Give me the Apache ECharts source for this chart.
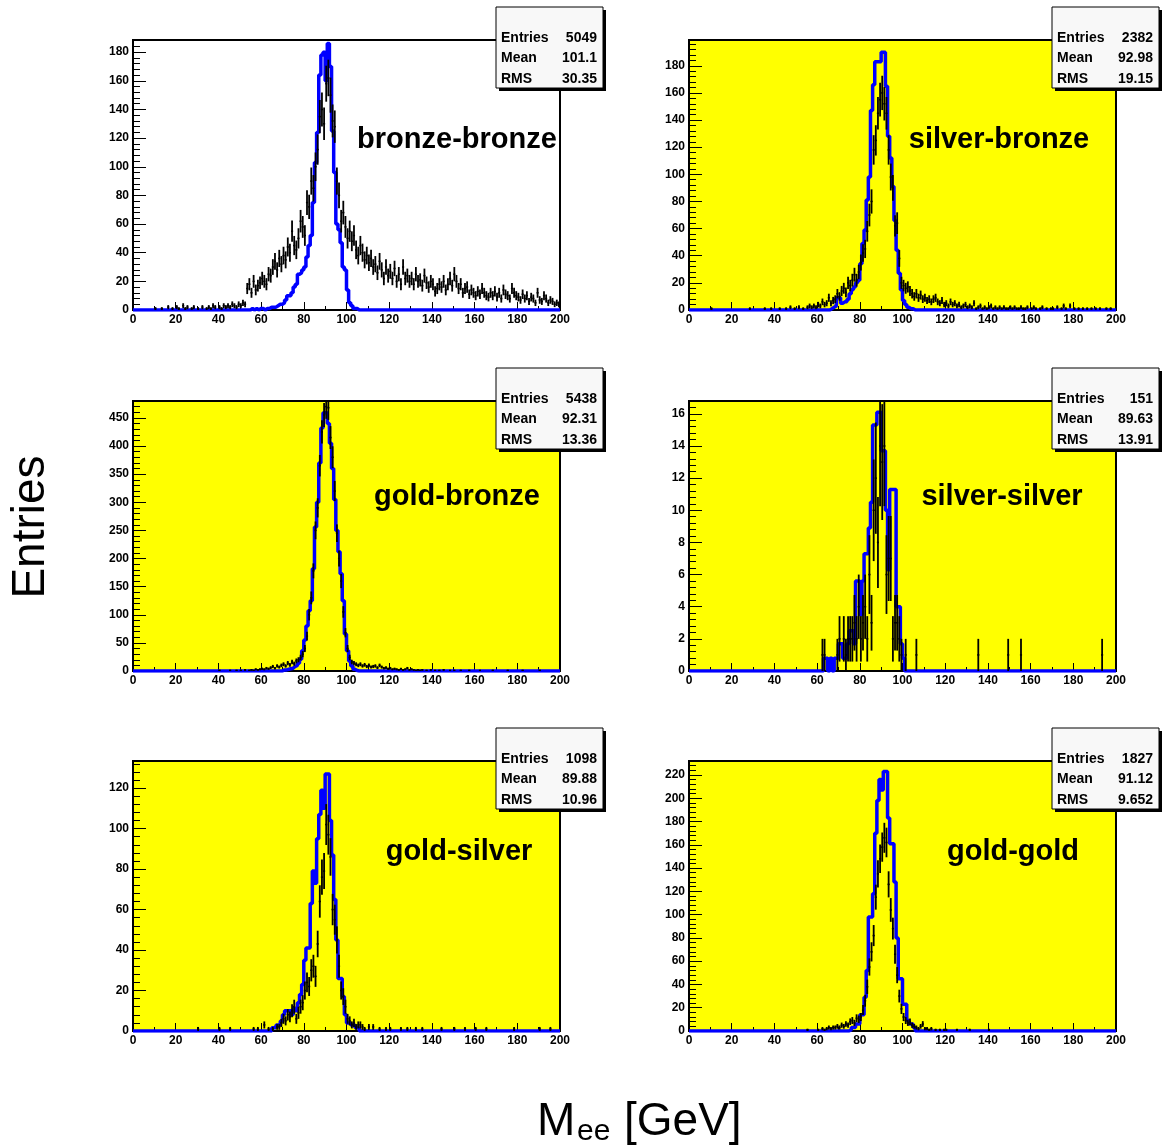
<!DOCTYPE html>
<html><head><meta charset="utf-8">
<script src="https://cdn.jsdelivr.net/npm/echarts@6/dist/echarts.min.js"></script>
<style>html,body{margin:0;padding:0;background:#fff}#c{width:1165px;height:1148px}</style>
</head><body><div id="c"></div><script>
// ---- data: 200 bins of 1 GeV, bin k = [k, k+1) ----
const bbData = [
0,0,0,0,0,0,0,0,0,0,1,0,0,1,0,0,2,0,1,0,
2,1,0,3,1,2,0,1,2,0,1,0,2,0,1,2,1,3,2,0,
2,1,3,2,3,2,4,3,2,4,3,5,4,15,18,12,20,14,17,19,
22,20,18,25,24,30,34,28,36,32,38,35,44,40,55,45,42,50,62,58,
52,75,72,90,85,100,112,135,140,130,158,162,150,132,128,90,80,62,68,58,
50,55,48,52,42,38,45,40,35,38,33,36,30,32,26,34,28,22,30,24,
27,22,29,20,25,18,30,22,24,20,22,18,25,20,21,17,24,19,16,20,
18,13,15,18,16,20,14,18,22,17,25,20,15,18,12,15,16,11,14,12,
10,13,11,15,12,10,9,12,10,13,9,12,8,14,11,10,8,15,12,10,
9,7,11,8,10,6,9,8,5,12,7,6,10,8,5,7,6,4,5,4];
const bbMC = [
0,0,0,0,0,0,0,0,0,0,0,0,0,0,0,0,0,0,0,0,
0,0,0,0,0,0,0,0,0,0,0,0,0,0,0,0,0,0,0,0,
0,0,0,0,0,0,0,0,0,0,0,0,0,0,0,1,0,1,0,1,
1,0,1,1,2,2,2,3,4,4,5,7,10,10,12,16,18,25,26,28,
30,37,45,52,75,103,124,164,178,180,160,186,170,125,96,60,56,47,30,28,
14,5,3,1,1,0,0,0,0,0,0,0,0,0,0,0,0,0,0,0,
0,0,0,0,0,0,0,0,0,0,0,0,0,0,0,0,0,0,0,0,
0,0,0,0,0,0,0,0,0,0,0,0,0,0,0,0,0,0,0,0,
0,0,0,0,0,0,0,0,0,0,0,0,0,0,0,0,0,0,0,0,
0,0,0,0,0,0,0,0,0,0,0,0,0,0,0,0,0,0,0,0];
const sbData = [
0,0,0,0,0,0,0,0,0,0,1,0,0,0,0,0,0,0,0,0,
0,0,0,0,0,0,0,0,1,0,0,0,0,0,0,1,0,0,1,0,
0,0,1,0,0,1,0,2,0,1,0,2,0,1,0,2,3,2,3,2,
4,3,6,4,5,9,5,7,8,12,10,14,16,13,20,18,22,26,22,28,
35,42,45,58,70,80,118,125,145,155,160,152,145,118,98,90,62,64,38,20,
18,16,17,14,12,10,12,9,11,8,9,7,8,6,8,9,6,5,7,4,
5,3,6,4,5,3,4,2,3,4,2,3,2,5,1,2,3,1,2,1,
2,3,1,2,1,2,1,2,1,1,2,1,2,1,1,2,1,1,2,0,
1,2,1,0,1,2,0,1,0,1,1,0,2,0,1,3,1,0,3,0,
1,0,1,0,1,0,1,0,1,0,1,0,1,0,0,1,0,1,0,0];
const sbMC = [
0,0,0,0,0,0,0,0,0,0,0,0,0,0,0,0,0,0,0,0,
0,0,0,0,0,0,0,0,0,0,0,0,0,0,0,0,0,0,0,0,
0,0,0,0,0,0,0,0,0,0,0,0,0,0,0,0,0,0,0,0,
0,0,0,0,0,0,1,2,3,9,9,5,6,6,8,12,15,17,20,22,
34,49,59,81,98,147,166,183,183,183,190,190,165,128,112,91,66,44,27,15,
7,4,2,1,1,0,0,0,0,0,0,0,0,0,0,0,0,0,0,0,
0,0,0,0,0,0,0,0,0,0,0,0,0,0,0,0,0,0,0,0,
0,0,0,0,0,0,0,0,0,0,0,0,0,0,0,0,0,0,0,0,
0,0,0,0,0,0,0,0,0,0,0,0,0,0,0,0,0,0,0,0,
0,0,0,0,0,0,0,0,0,0,0,0,0,0,0,0,0,0,0,0];
const gbData = [
0,0,0,0,0,0,0,0,0,0,0,0,0,0,0,0,0,0,0,0,
0,0,0,0,0,0,0,0,0,0,0,0,0,0,0,0,0,0,0,0,
1,0,0,0,0,1,0,0,1,0,1,0,2,0,1,2,1,3,2,3,
4,3,5,4,6,8,5,9,7,10,12,9,14,11,16,13,18,20,24,30,
40,62,100,130,178,250,290,365,425,455,470,468,415,380,320,245,200,160,105,68,
40,24,16,14,12,10,12,9,11,8,10,7,8,9,6,10,7,5,6,4,
5,3,4,3,2,4,2,3,5,2,3,2,1,2,1,2,0,1,0,2,
0,1,0,1,0,2,0,0,1,0,1,0,0,1,0,0,0,1,0,0,
0,0,1,0,0,0,0,0,1,0,0,0,0,0,0,1,0,0,0,0,
0,0,1,0,0,0,0,0,0,0,1,0,0,0,0,0,0,0,0,0];
const gbMC = [
0,0,0,0,0,0,0,0,0,0,0,0,0,0,0,0,0,0,0,0,
0,0,0,0,0,0,0,0,0,0,0,0,0,0,0,0,0,0,0,0,
0,0,0,0,0,0,0,0,0,0,0,0,0,0,0,0,0,0,0,0,
0,0,0,0,0,0,0,0,0,0,2,2,3,4,5,8,10,14,21,36,
55,80,107,125,182,256,300,370,432,459,459,440,405,360,305,250,212,173,125,66,
36,18,9,3,1,0,0,0,0,0,0,0,0,0,0,0,0,0,0,0,
0,0,0,0,0,0,0,0,0,0,0,0,0,0,0,0,0,0,0,0,
0,0,0,0,0,0,0,0,0,0,0,0,0,0,0,0,0,0,0,0,
0,0,0,0,0,0,0,0,0,0,0,0,0,0,0,0,0,0,0,0,
0,0,0,0,0,0,0,0,0,0,0,0,0,0,0,0,0,0,0,0];
const ssData = [
0,0,0,0,0,0,0,0,0,0,0,0,0,0,0,0,0,0,0,0,
0,0,0,0,0,0,0,0,0,0,0,0,0,0,0,0,0,0,0,0,
0,0,0,0,0,0,0,0,0,0,0,0,0,0,0,0,0,0,0,0,
0,0,1,1,0,0,0,0,0,1,2,0,2,1,2,2,2,3,2,4,
2,3,4,2,6,3,10,12,8,14,13,14,6,7,7,2,3,3,2,1,
0,1,0,0,0,0,1,0,0,0,0,0,0,0,0,0,0,0,0,0,
0,0,0,0,0,0,0,0,0,0,0,0,0,0,0,1,0,0,0,0,
0,0,0,0,0,0,0,0,0,1,0,0,0,0,0,1,0,0,0,0,
0,0,0,0,0,0,0,0,0,0,0,0,0,0,0,0,0,0,0,0,
0,0,0,0,0,0,0,0,0,0,0,0,0,1,0,0,0,0,0,0];
const ssMC = [
0,0,0,0,0,0,0,0,0,0,0,0,0,0,0,0,0,0,0,0,
0,0,0,0,0,0,0,0,0,0,0,0,0,0,0,0,0,0,0,0,
0,0,0,0,0,0,0,0,0,0,0,0,0,0,0,0,0,0,0,0,
0,0,0,0.8,0.8,0,0.8,0,0.8,0.8,1.7,1.7,0.8,0.8,1.7,2.5,2.5,1.7,5.6,5.6,
3.5,5.6,7.3,7.3,8.9,10.5,15.3,15.3,16.1,16.1,13.7,13.7,10,6.3,11.3,11.3,11.3,4,4,1.7,
0.8,0,0,0,0,0,0,0,0,0,0,0,0,0,0,0,0,0,0,0,
0,0,0,0,0,0,0,0,0,0,0,0,0,0,0,0,0,0,0,0,
0,0,0,0,0,0,0,0,0,0,0,0,0,0,0,0,0,0,0,0,
0,0,0,0,0,0,0,0,0,0,0,0,0,0,0,0,0,0,0,0,
0,0,0,0,0,0,0,0,0,0,0,0,0,0,0,0,0,0,0,0];
const gsData = [
0,0,0,0,0,0,0,0,0,0,0,0,0,0,0,0,0,0,0,0,
0,0,0,0,0,0,0,0,0,0,1,0,0,0,0,0,0,0,0,0,
1,0,0,0,0,1,0,0,0,0,0,0,0,0,0,0,1,0,1,0,
0,3,0,1,0,1,0,2,2,4,6,5,8,7,10,12,6,9,12,14,
20,24,22,30,32,27,43,64,76,79,102,97,86,60,55,45,32,20,17,12,
6,5,3,4,2,3,3,2,1,0,2,0,2,0,0,1,0,0,1,0,
1,0,0,0,0,1,0,0,1,0,0,0,1,0,0,1,0,0,0,0,
0,0,0,0,1,0,0,0,0,0,1,0,0,0,0,1,0,0,0,0,
1,0,0,0,0,1,0,0,0,0,0,0,0,0,0,0,0,0,1,0,
0,0,0,0,0,0,0,0,0,0,1,0,0,0,0,1,0,0,0,0];
const gsMC = [
0,0,0,0,0,0,0,0,0,0,0,0,0,0,0,0,0,0,0,0,
0,0,0,0,0,0,0,0,0,0,0,0,0,0,0,0,0,0,0,0,
0,0,0,0,0,0,0,0,0,0,0,0,0,0,0,0,0,0,0,0,
0,0,0,0,0,1.6,1.6,3,3,5,8,10,10,10,8,11,10,14,18,23,
35,41,41,63,79,73,95,107,119,110,127,127,104,87,65,45,26,26,17,8,
4,4,3,3,1.6,1.6,0,0,0,0,0,0,0,0,0,0,0,0,0,0,
0,0,0,0,0,0,0,0,0,0,0,0,0,0,0,0,0,0,0,0,
0,0,0,0,0,0,0,0,0,0,0,0,0,0,0,0,0,0,0,0,
0,0,0,0,0,0,0,0,0,0,0,0,0,0,0,0,0,0,0,0,
0,0,0,0,0,0,0,0,0,0,0,0,0,0,0,0,0,0,0,0];
const ggData = [
0,0,0,0,0,0,0,0,0,0,0,0,0,0,0,0,0,0,0,0,
0,0,0,0,0,0,0,0,0,0,0,0,0,0,0,0,0,0,0,0,
0,0,0,0,0,0,0,0,0,0,0,0,0,0,0,1,0,0,0,0,
1,0,2,1,2,3,2,3,3,4,3,5,4,6,5,8,9,7,11,10,
12,18,26,38,55,68,82,115,135,148,158,166,162,126,104,88,66,48,30,19,
12,9,7,8,5,4,3,2,4,6,2,2,1,2,0,1,0,1,0,1,
1,0,0,0,0,1,0,0,0,0,0,1,0,0,0,0,0,0,0,0,
1,0,0,0,0,0,0,0,0,0,0,0,0,0,0,0,0,0,0,0,
0,0,0,0,0,0,0,0,0,0,0,0,0,0,0,0,0,0,0,0,
0,0,0,0,0,0,0,0,0,0,0,0,0,0,0,0,0,0,0,0];
const ggMC = [
0,0,0,0,0,0,0,0,0,0,0,0,0,0,0,0,0,0,0,0,
0,0,0,0,0,0,0,0,0,0,0,0,0,0,0,0,0,0,0,0,
0,0,0,0,0,0,0,0,0,0,0,0,0,0,0,0,0,0,0,0,
0,0,0,0,0,0,0,0,0,0,0,0,0,0,0,1,3,3,6,6,
14,14,29,52,98,98,118,170,198,216,207,223,223,183,161,161,128,80,45,45,
23,23,9,6,6,3,0,0,0,0,0,0,0,0,0,0,0,0,0,0,
0,0,0,0,0,0,0,0,0,0,0,0,0,0,0,0,0,0,0,0,
0,0,0,0,0,0,0,0,0,0,0,0,0,0,0,0,0,0,0,0,
0,0,0,0,0,0,0,0,0,0,0,0,0,0,0,0,0,0,0,0,
0,0,0,0,0,0,0,0,0,0,0,0,0,0,0,0,0,0,0,0];

const panelNames = ['bronze-bronze','silver-bronze','gold-bronze','silver-silver','gold-silver','gold-gold'];
const statEntries = ['5049','2382','5438','151','1098','1827'];
const statMean = ['101.1','92.98','92.31','89.63','89.88','91.12'];
const statRMS = ['30.35','19.15','13.36','13.91','10.96','9.652'];
const xTickValues = [0,20,40,60,80,100,120,140,160,180,200];
const yMax = [188.5,199,480,16.8,133.4,232];
const yMajor = [20,20,50,2,20,20];
const yMinor = [4,4,10,0.4,4,4];

// ---- layout / style ----
const FONT = 'Liberation Sans';
const dataSets = [bbData, sbData, gbData, ssData, gsData, ggData];
const mcSets = [bbMC, sbMC, gbMC, ssMC, gsMC, ggMC];
const bgs = ['#ffffff','#ffff00','#ffff00','#ffff00','#ffff00','#ffff00'];
const gridLeft = [133,689,133,689,133,689];
const gridTop = [40,40,401,401,761,761];
const gridW = 427, gridH = 270;
const titleX = [457,999,457,1002,459,1013];
const titleY = [140,140,497,497,852,852];

function renderErr(params, api){
  const x = api.value(0), y = api.value(1), e = Math.sqrt(y);
  const t = api.coord([x+0.5, y+e]), b = api.coord([x+0.5, y-e]);
  const l = api.coord([x, y]), r = api.coord([x+1, y]);
  return {type:'group', children:[
    {type:'line', shape:{x1:t[0],y1:t[1],x2:b[0],y2:b[1]}, style:{stroke:'#000',lineWidth:1.8}},
    {type:'line', shape:{x1:l[0],y1:l[1],x2:r[0],y2:r[1]}, style:{stroke:'#000',lineWidth:1.5}}
  ]};
}

const grids=[], xAxes=[], yAxes=[], series=[], graphics=[];
for (let i=0;i<6;i++){
  grids.push({left:gridLeft[i], top:gridTop[i], width:gridW, height:gridH, show:true,
    backgroundColor:bgs[i], borderColor:'#000', borderWidth:2, containLabel:false});
  xAxes.push({type:'value', gridIndex:i, min:xTickValues[0], max:xTickValues[xTickValues.length-1], interval:20,
    axisLine:{show:false}, splitLine:{show:false},
    axisTick:{show:true, inside:true, length:8, lineStyle:{color:'#000',width:1}},
    minorTick:{show:true, splitNumber:2, length:4, lineStyle:{color:'#000',width:1}},
    axisLabel:{fontFamily:FONT, fontWeight:'bold', fontSize:12, color:'#000', margin:4}});
  yAxes.push({type:'value', gridIndex:i, position:'left', min:0, max:yMax[i], interval:yMajor[i],
    axisLine:{show:false}, splitLine:{show:false},
    axisTick:{show:true, inside:true, length:13, lineStyle:{color:'#000',width:1}},
    axisLabel:{fontFamily:FONT, fontWeight:'bold', fontSize:12, color:'#000', margin:4, showMaxLabel:false}});
  yAxes.push({type:'value', gridIndex:i, position:'left', offset:0, min:0, max:yMax[i], interval:yMinor[i],
    axisLine:{show:false}, splitLine:{show:false},
    axisTick:{show:true, inside:true, length:7, lineStyle:{color:'#000',width:1}},
    axisLabel:{show:false}});
  const mc = mcSets[i];
  const mcPts = mc.map((v,k)=>[k,v]); mcPts.push([200, mc[199]]);
  series.push({type:'line', xAxisIndex:i, yAxisIndex:2*i, data:mcPts, step:'end', symbol:'none',
    lineStyle:{color:'#0000ff', width:3.5}, clip:true, z:2, animation:false, silent:true});
  const pts = dataSets[i].map((v,k)=>[k,v]).filter(d=>d[1]>0);
  series.push({type:'custom', xAxisIndex:i, yAxisIndex:2*i, data:pts, renderItem:renderErr,
    clip:true, z:3, animation:false, silent:true});
  // stats box
  const bx = gridLeft[i]+363, by = gridTop[i]-33, bw = 107, bh = 81;
  graphics.push({type:'rect', shape:{x:bx+3,y:by+3,width:bw,height:bh}, style:{fill:'#000'}, z:10});
  graphics.push({type:'rect', shape:{x:bx,y:by,width:bw,height:bh}, style:{fill:'#f8f8f8',stroke:'#000',lineWidth:1}, z:11});
  const labels = ['Entries','Mean','RMS'], vals = [statEntries[i], statMean[i], statRMS[i]];
  for (let k=0;k<3;k++){
    const ty = by+31+k*20.5;
    graphics.push({type:'text', x:bx+5, y:ty, z:12, style:{text:labels[k], font:'bold 14px '+FONT, fill:'#000', textAlign:'left', textVerticalAlign:'middle'}});
    graphics.push({type:'text', x:bx+bw-6, y:ty, z:12, style:{text:vals[k], font:'bold 14px '+FONT, fill:'#000', textAlign:'right', textVerticalAlign:'middle'}});
  }
  graphics.push({type:'text', x:titleX[i], y:titleY[i], z:12, style:{text:panelNames[i], font:'bold 29px '+FONT, fill:'#000', textAlign:'center', textVerticalAlign:'middle'}});
}
graphics.push({type:'text', x:31, y:527, rotation:Math.PI/2, z:12, style:{text:'Entries', font:'46px '+FONT, fill:'#000', textAlign:'center', textVerticalAlign:'middle'}});
graphics.push({type:'text', x:537, y:1122, z:12, style:{text:'M', font:'46px '+FONT, fill:'#000', textAlign:'left', textVerticalAlign:'middle'}});
graphics.push({type:'text', x:577, y:1132, z:12, style:{text:'ee', font:'30px '+FONT, fill:'#000', textAlign:'left', textVerticalAlign:'middle'}});
graphics.push({type:'text', x:624, y:1122, z:12, style:{text:'[GeV]', font:'46px '+FONT, fill:'#000', textAlign:'left', textVerticalAlign:'middle'}});

const chart = echarts.init(document.getElementById('c'), null, {renderer:'canvas'});
chart.setOption({animation:false, backgroundColor:'#ffffff', grid:grids, xAxis:xAxes, yAxis:yAxes, series:series, graphic:graphics});
</script></body></html>
